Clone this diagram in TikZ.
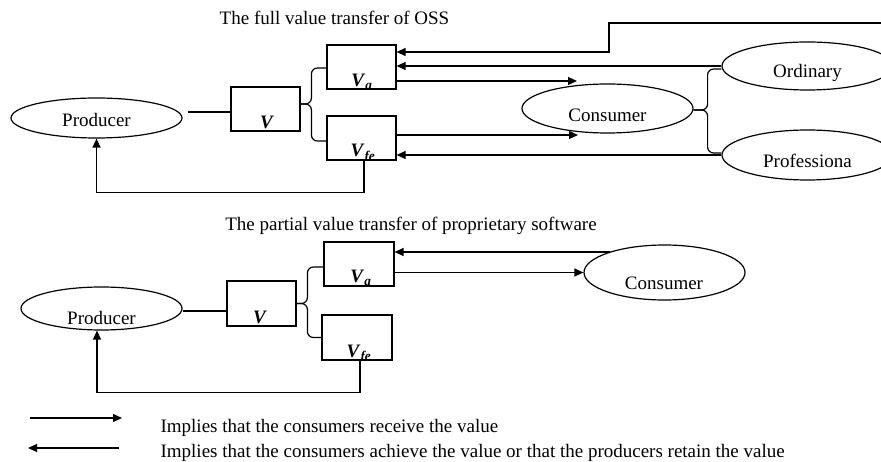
\documentclass[tikz,border=0pt]{standalone}
\usepackage{fontspec}
\setmainfont{Liberation Serif}
\usetikzlibrary{shapes.geometric,arrows.meta,calc}
\begin{document}
\begin{tikzpicture}[x=1pt,y=-1pt,
  font=\fontsize{19pt}{23pt}\selectfont,
  line width=1.2pt,
  ell/.style={draw,ellipse,inner sep=0pt},
  vbox/.style={draw,rectangle,inner sep=0pt,minimum width=69pt,minimum height=44pt},
  txt/.style={inner sep=0pt,anchor=base},
  arr/.style={-{Triangle[length=9pt,width=8pt]}},
  bracepath/.style={rounded corners=6pt}]
\useasboundingbox (0,0) rectangle (881,462);
\clip (0,0) rectangle (881,462);

% ---------- titles ----------
\node[txt] (t1) at (334.5,25) {The full value transfer of OSS};
\node[txt] (t2) at (411,231) {The partial value transfer of proprietary software};

% ---------- upper diagram ----------
\node[ell,minimum width=171pt,minimum height=40pt] (prodA) at (96.5,118) {};
\node[txt] (prodAt) at (96.5,127) {Producer};
\node[vbox] (VA) at (265.5,109) {};
\node[vbox] (VaA) at (361.5,67) {};
\node[vbox] (VfeA) at (361.5,138) {};
\node[ell,minimum width=171pt,minimum height=49pt] (consA) at (607.5,108.5) {};
\node[txt] (consAt) at (607.5,122) {Consumer};
\node[ell,minimum width=171pt,minimum height=48pt] (ordA) at (807.5,66) {};
\node[txt] (ordAt) at (807.5,78) {Ordinary};
\node[ell,minimum width=171pt,minimum height=50pt] (profA) at (807.5,155) {};
\node[txt] (profAt) at (807.5,168) {Professiona};

\begin{scope}
  \clip ([yshift=1pt]VA.south west) rectangle (VA.north east);
  \node[txt] (VAl) at (267,129) {\textbf{\textit{V}}};
\end{scope}
\begin{scope}
  \clip ([yshift=1pt]VaA.south west) rectangle (VaA.north east);
  \node[txt] (VaAl) at (362,87) {\textbf{\textit{V}\textsubscript{\textit{a}}}};
\end{scope}
\begin{scope}
  \clip ([yshift=1pt]VfeA.south west) rectangle (VfeA.north east);
  \node[txt] (VfeAl) at (363,157) {\textbf{\textit{V}\textsubscript{\textit{fe}}}};
\end{scope}

% connectors (upper)
\draw ([xshift=5pt,yshift=6pt]prodA.east) -- ([yshift=-3pt]VA.west);
\coordinate (bA) at ([yshift=5pt]VA.east);
\draw[bracepath] ([yshift=-1pt]VaA.west) -- ++(-15,0) |- (bA);
\draw[bracepath] ([yshift=-3pt]VfeA.west) -- ++(-15,0) |- (bA);

\coordinate (topR) at (890,23);
\coordinate (bendA) at (609,23);
\draw[arr] (topR) -- (bendA) |- ([yshift=15pt]VaA.east);
\draw[arr] (ordA.west) -- (VaA.east |- ordA.west);
\coordinate (cA1) at (577,81);
\draw[arr] (VaA.east |- cA1) -- (cA1);
\coordinate (cA2) at (578,135);
\draw[arr] (VfeA.east |- cA2) -- (cA2);
\draw[arr] (profA.west) -- (VfeA.east |- profA.west);

\coordinate (bC) at ([yshift=-1.5pt]consA.east);
\draw[bracepath] (bC) -- ++(14,0) |- ([yshift=-3pt]ordA.west);
\draw[bracepath] (bC) -- ++(14,0) |- ([yshift=2pt]profA.west);

\draw[arr] ([xshift=2.5pt]VfeA.south) -- ++(0,32) -| (prodA.south);

% ---------- lower diagram ----------
\node[ell,minimum width=161pt,minimum height=43pt] (prodB) at (101.5,308.5) {};
\node[txt] (prodBt) at (101.5,325) {Producer};
\node[vbox,minimum height=45pt] (VB) at (261.5,303.5) {};
\node[vbox,minimum width=70pt] (VaB) at (359,264) {};
\node[vbox,minimum width=70pt,minimum height=45pt] (VfeB) at (357,337.5) {};
\node[ell,minimum width=161pt,minimum height=55pt] (consB) at (664.5,272.5) {};
\node[txt] (consBt) at (664,290) {Consumer};

\begin{scope}
  \clip ([yshift=1pt]VB.south west) rectangle (VB.north east);
  \node[txt] (VBl) at (260,324) {\textbf{\textit{V}}};
\end{scope}
\begin{scope}
  \clip ([yshift=1pt]VaB.south west) rectangle (VaB.north east);
  \node[txt] (VaBl) at (361,283) {\textbf{\textit{V}\textsubscript{\textit{a}}}};
\end{scope}
\begin{scope}
  \clip ([yshift=1pt]VfeB.south west) rectangle (VfeB.north east);
  \node[txt] (VfeBl) at (359,357) {\textbf{\textit{V}\textsubscript{\textit{fe}}}};
\end{scope}

\draw ([yshift=-2.5pt]prodB.east) -- ([yshift=-7.5pt]VB.west);
\coordinate (bB) at (VB.east);
\draw[bracepath] ([yshift=-3pt]VaB.west) -- ++(-16,0) |- (bB);
\draw[bracepath] (VfeB.west) -- ++(-14,0) |- (bB);

\coordinate (cB1) at (610,252);
\draw[arr] (cB1) -- (VaB.east |- cB1);
\draw[arr] (VaB.east |- consB.west) -- (consB.west);

\draw[arr] ([xshift=3pt]VfeB.south) -- ++(0,32) -| ([xshift=-4.5pt]prodB.south);

% ---------- legend ----------
\coordinate (l1a) at (30,418);
\coordinate (l1b) at (122,418);
\draw[arr] (l1a) -- (l1b);
\coordinate (l2a) at (119,448);
\coordinate (l2b) at (28,448);
\draw[arr] (l2a) -- (l2b);
\node[txt,anchor=base west] (lg1) at (160,432) {Implies that the consumers receive the value};
\node[txt,anchor=base west] (lg2) at (160,457) {Implies that the consumers achieve the value or that the producers retain the value};
\end{tikzpicture}
\end{document}
